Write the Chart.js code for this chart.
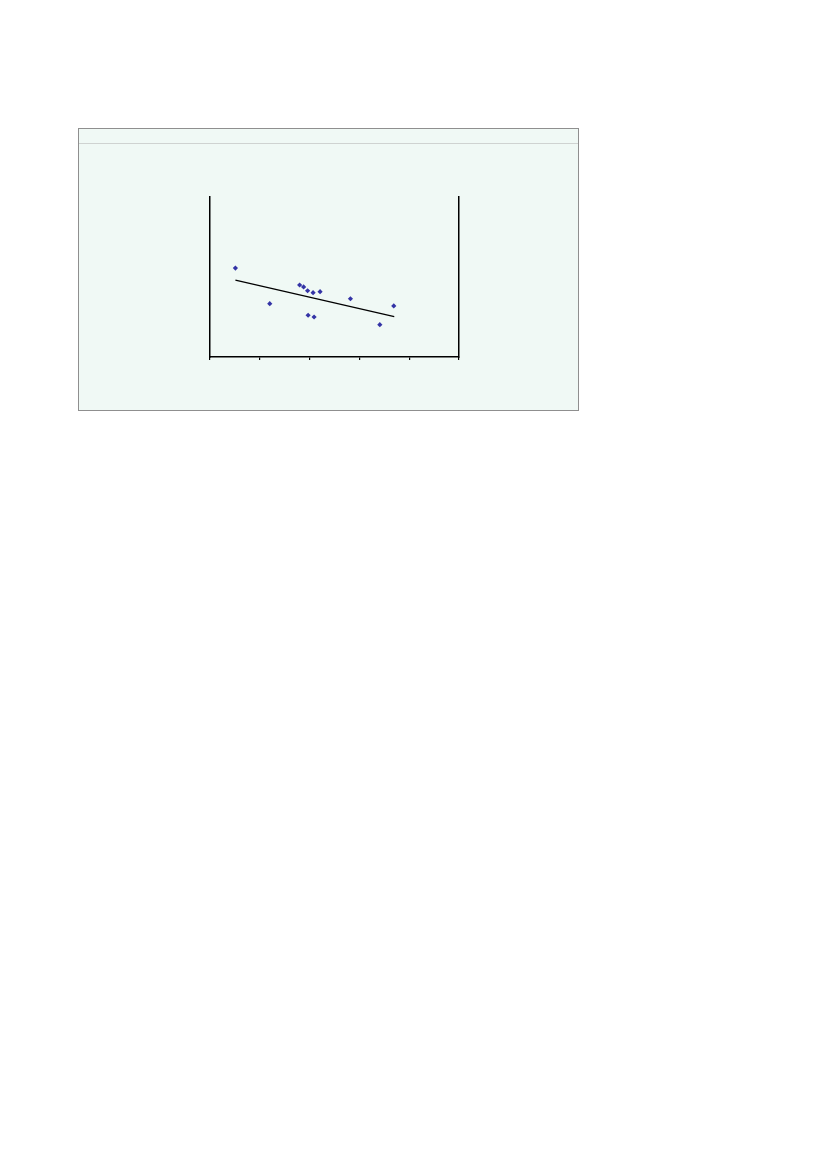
<!DOCTYPE html>
<html>
<head>
<meta charset="utf-8">
<script src="https://cdn.jsdelivr.net/npm/chart.js@4"></script>
<style>
  body { margin: 0; background: #fff; }
  #box {
    position: absolute; left: 78px; top: 128px;
    width: 499px; height: 281px;
    border: 1px solid #8f8f8f;
    background: #f0f9f5;
  }
  #rule {
    position: absolute; left: 0; top: 14px; width: 100%;
    height: 1px; background: #cfd3d1;
  }
  #wrap { position: absolute; left: 0; top: 0; width: 499px; height: 281px; }
</style>
</head>
<body>
<div id="box">
  <div id="rule"></div>
  <div id="wrap"><canvas id="scatter"></canvas></div>
</div>
<script>
// observed points
var xs = [5.1, 12.0, 18.0, 18.8, 19.6, 20.7, 22.1, 19.7, 20.9, 28.2, 34.1, 36.9];
var ys = [55.6, 33.3, 45.0, 43.8, 41.4, 40.2, 40.8, 26.1, 25.0, 36.4, 20.2, 31.9];

// fitted line ends
var trendX = [5.1, 37.0];
var trendY = [48.1, 25.2];

var xTicks = [0, 10, 20, 30, 40, 50];

function pairs(a, b) {
  var out = [];
  for (var i = 0; i < a.length; i++) out.push({ x: a[i], y: b[i] });
  return out;
}

window.onload = function() {
  new Chart(document.getElementById("scatter"), {
    type: "scatter",
    data: {
      datasets: [
        {
          data: pairs(xs, ys),
          pointStyle: "rectRot",
          pointRadius: 2.6,
          backgroundColor: "#3434a6",
          borderColor: "#3434a6",
          borderWidth: 0
        },
        {
          type: "line",
          data: pairs(trendX, trendY),
          borderColor: "#000",
          borderWidth: 1.3,
          pointRadius: 0,
          fill: false
        }
      ]
    },
    options: {
      responsive: true,
      maintainAspectRatio: false,
      animation: false,
      layout: { padding: { left: 123, right: 111, top: 68, bottom: 50 } },
      plugins: { legend: { display: false }, tooltip: { enabled: false } },
      scales: {
        x: {
          type: "linear",
          min: xTicks[0],
          max: xTicks[xTicks.length - 1],
          afterBuildTicks: function(s) { s.ticks = xTicks.map(function(v) { return { value: v }; }); },
          ticks: { display: false },
          grid: { drawOnChartArea: false, drawTicks: true, tickLength: 3, color: "#000", lineWidth: 1.2 },
          border: { color: "#000", width: 1.5 }
        },
        y: {
          min: 0, max: 100,
          ticks: { display: false },
          grid: { display: false },
          border: { color: "#000", width: 1.5 }
        },
        y2: {
          position: "right",
          min: 0, max: 100,
          ticks: { display: false },
          grid: { display: false },
          border: { color: "#000", width: 1.5 }
        }
      }
    }
  });
};
</script>
</body>
</html>
